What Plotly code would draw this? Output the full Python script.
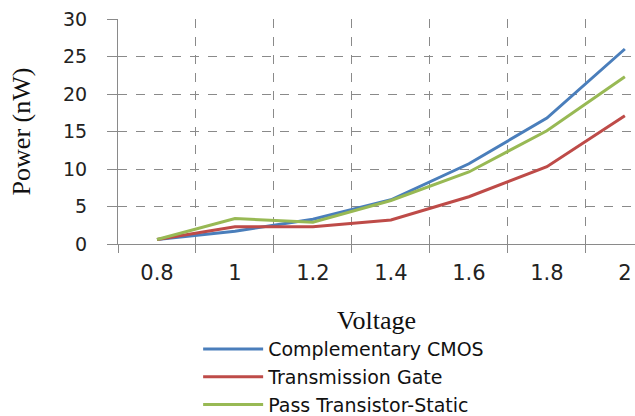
import plotly.graph_objects as go

voltage = ["0.8", "1", "1.2", "1.4", "1.6", "1.8", "2"]
cmos = [0.6, 1.7, 3.3, 5.9, 10.7, 16.8, 26.0]
tgate = [0.6, 2.3, 2.3, 3.2, 6.3, 10.3, 17.1]
pts = [0.6, 3.4, 2.9, 5.8, 9.6, 15.1, 22.3]

series = [
    ("Complementary CMOS", cmos, "#4a7ebb"),
    ("Transmission Gate", tgate, "#be4b48"),
    ("Pass Transistor-Static", pts, "#98b954"),
]

fig = go.Figure()
for name, vals, col in series:
    fig.add_trace(go.Scatter(x=voltage, y=vals, mode="lines", name=name,
                             line=dict(color=col, width=3)))

grid_col = "#8a8a8a"
fig.update_layout(
    width=635, height=416,
    margin=dict(l=118, r=0, t=19, b=172, autoexpand=False),
    plot_bgcolor="white", paper_bgcolor="white",
    font=dict(family="DejaVu Sans", color="#222222"),
    showlegend=True,
    legend=dict(x=0.155, y=-0.383, xanchor="left", yanchor="top",
                font=dict(family="DejaVu Sans", size=19, color="#111111"),
                tracegroupgap=0, itemwidth=60, bgcolor="rgba(0,0,0,0)"),
    xaxis=dict(
        type="category", range=[-0.5, 6.13], tickson="boundaries",
        showline=True, linecolor=grid_col, linewidth=1,
        ticks="outside", ticklen=8, tickcolor=grid_col,
        showgrid=True, gridcolor=grid_col, griddash="dash", gridwidth=1,
        tickfont=dict(size=21, color="#222222"),
        ticklabelstandoff=10,
        title=dict(text="Voltage", font=dict(family="Liberation Serif", size=26, color="#111111"),
                   standoff=26),
    ),
    yaxis=dict(
        range=[0, 30], tickvals=[0, 5, 10, 15, 20, 25, 30],
        showline=True, linecolor=grid_col, linewidth=1,
        ticks="outside", ticklen=10, tickcolor=grid_col,
        showgrid=True, gridcolor=grid_col, griddash="dash", gridwidth=1,
        zeroline=False,
        tickfont=dict(size=19, color="#222222"),
        ticklabelstandoff=16,
        title=dict(text="Power (nW)", font=dict(family="Liberation Serif", size=26, color="#111111"),
                   standoff=24),
    ),
)

fig.write_html("out.html")
